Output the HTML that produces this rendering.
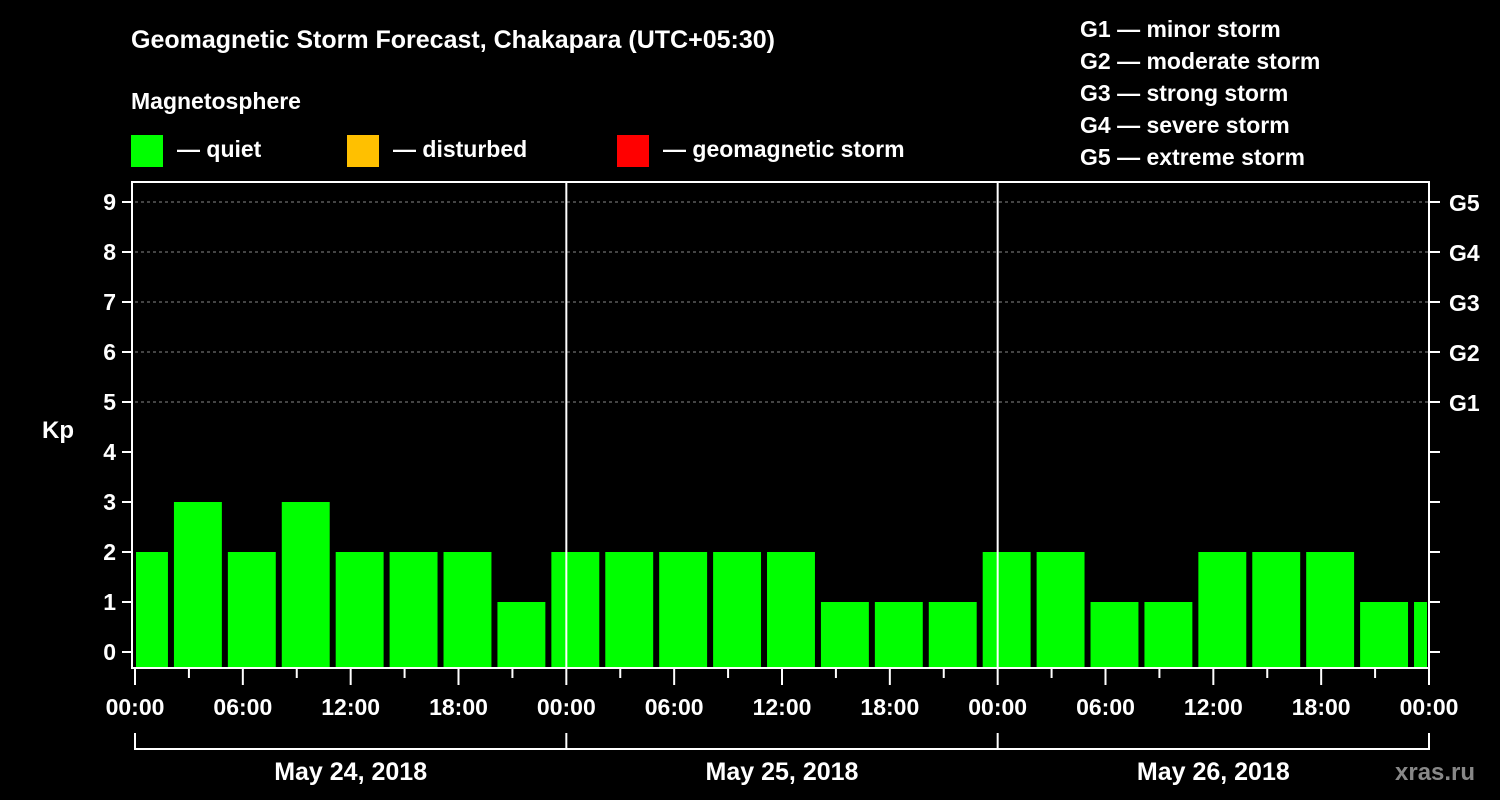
<!DOCTYPE html>
<html><head><meta charset="utf-8"><style>
body{margin:0;background:#000;}
svg{display:block;font-family:"Liberation Sans",sans-serif;font-weight:bold;}
</style></head><body>
<svg id="chart" width="1500" height="800" viewBox="0 0 1500 800">
<rect width="1500" height="800" fill="#000"/>
<text x="131" y="48" fill="#fff" font-size="25">Geomagnetic Storm Forecast, Chakapara (UTC+05:30)</text>
<text x="131" y="109" fill="#fff" font-size="23">Magnetosphere</text>
<g><rect x="131" y="135" width="32" height="32" fill="#00ff00"/><text x="177" y="157" fill="#fff" font-size="23">— quiet</text></g>
<g><rect x="347" y="135" width="32" height="32" fill="#ffc000"/><text x="393" y="157" fill="#fff" font-size="23">— disturbed</text></g>
<g><rect x="617" y="135" width="32" height="32" fill="#ff0000"/><text x="663" y="157" fill="#fff" font-size="23">— geomagnetic storm</text></g>
<g fill="#fff" font-size="23">
<text x="1080" y="37">G1 — minor storm</text>
<text x="1080" y="69">G2 — moderate storm</text>
<text x="1080" y="101">G3 — strong storm</text>
<text x="1080" y="133">G4 — severe storm</text>
<text x="1080" y="165">G5 — extreme storm</text>
</g>
<text x="42" y="438" fill="#fff" font-size="24">Kp</text>
<g id="grid"></g><g id="bars"></g><g id="axes"></g>
<text x="1395" y="780" fill="#888" font-size="24">xras.ru</text>
</svg>
<script>
const kpValues=[2,3,2,3,2,2,2,1,2,2,2,2,2,1,1,1,2,2,1,1,2,2,2,1,1];
const yTicks=[0,1,2,3,4,5,6,7,8,9];
const gLabels=["G1","G2","G3","G4","G5"];
const xTickLabels=["00:00","06:00","12:00","18:00","00:00","06:00","12:00","18:00","00:00","06:00","12:00","18:00","00:00"];
const dayLabels=["May 24, 2018","May 25, 2018","May 26, 2018"];
const NS="http://www.w3.org/2000/svg";
const L=135,R=1429,T=182,B=668;
const hourW=(R-L)/72;
const y=v=>652-50*v;
const x=h=>L+h*hourW;
function mk(tag,attrs,parent,txt){const e=document.createElementNS(NS,tag);for(const k in attrs)e.setAttribute(k,attrs[k]);if(txt!==undefined)e.textContent=txt;document.getElementById(parent).appendChild(e);return e;}
yTicks.forEach(v=>{
 if(v>=5){const g=mk('line',{x1:L,x2:R,y1:y(v),y2:y(v),stroke:'#888','stroke-dasharray':'3,3','stroke-width':1},'grid');
 
 }
});
// bars: 3h UTC slots, local offset 5.5h
kpValues.forEach((v,i)=>{
 let s=x(-5.5+2.5+3*i-0)+3; // slot start
 s=x(3*i-1)+3; let e=s+hourW*3-6;
 s=Math.max(s,L+1); e=Math.min(e,R-2);
 if(e<=s)return;
 const r=mk('rect',{x:s,y:y(v),width:e-s,height:B-y(v),fill:v>=5?'#ff0000':(v>=4?'#ffc000':'#00ff00')},'bars');
 
 
});
const frame=mk('rect',{x:L-3,y:T,width:R-L+3,height:B-T,fill:'none',stroke:'#fff','stroke-width':2},'axes');


[1,2].forEach(d=>{const l=mk('line',{x1:x(24*d),x2:x(24*d),y1:T,y2:B,stroke:'#fff','stroke-width':2},'axes');
 
 });
yTicks.forEach(v=>{
 mk('line',{x1:122,x2:132,y1:y(v),y2:y(v),stroke:'#fff','stroke-width':2},'axes');
 mk('line',{x1:R,x2:R+11,y1:y(v),y2:y(v),stroke:'#fff','stroke-width':2},'axes');
 const t=mk('text',{x:116,y:y(v)+8,fill:'#fff','font-size':23,'text-anchor':'end'},'axes',String(v));
 
 
});
gLabels.forEach((g,i)=>{const t=mk('text',{x:1449,y:y(5+i)+9,fill:'#fff','font-size':23},'axes',g);
 
 });
for(let h=0;h<=72;h+=3){mk('line',{x1:x(h),x2:x(h),y1:B,y2:h%6==0?685:678,stroke:'#fff','stroke-width':2},'axes');}
xTickLabels.forEach((s,i)=>{const t=mk('text',{x:x(6*i),y:715,fill:'#fff','font-size':23,'text-anchor':'middle'},'axes',s);
 
 });
mk('line',{x1:L,x2:R,y1:749,y2:749,stroke:'#fff','stroke-width':2},'axes');
for(let d=0;d<=3;d++)mk('line',{x1:x(24*d),x2:x(24*d),y1:733,y2:750,stroke:'#fff','stroke-width':2},'axes');
dayLabels.forEach((s,i)=>{const t=mk('text',{x:x(24*i+12),y:780,fill:'#fff','font-size':25,'text-anchor':'middle'},'axes',s);
 
 });
</script>
</body></html>
